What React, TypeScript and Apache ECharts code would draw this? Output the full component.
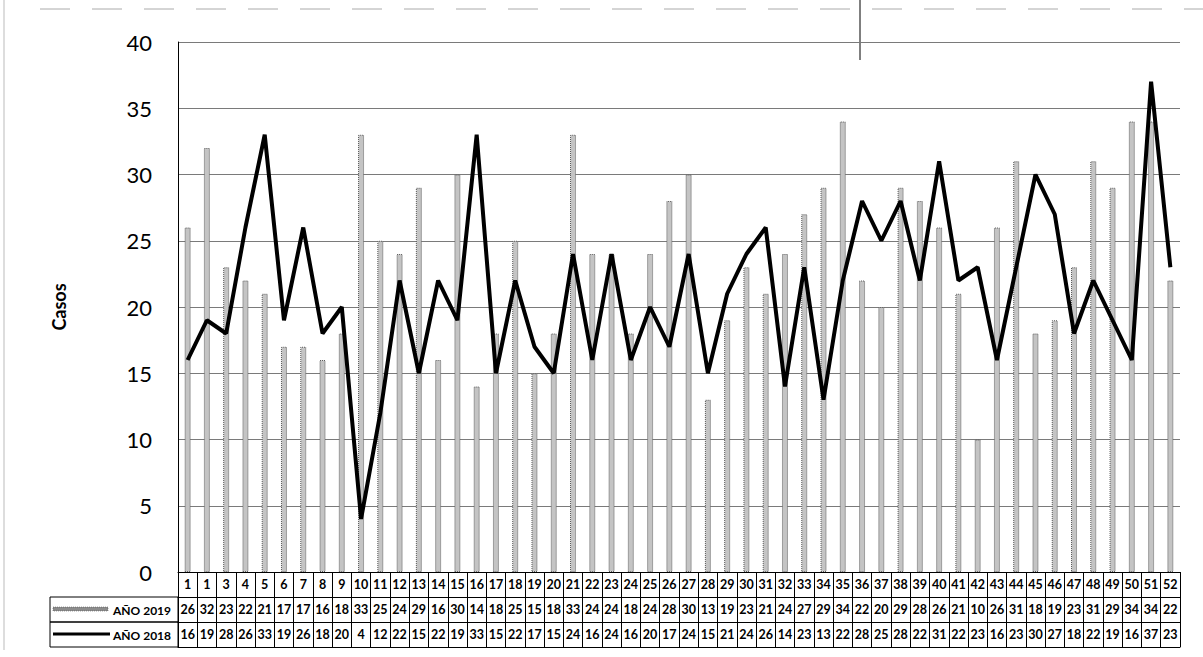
import React, { useEffect, useRef } from "react";
import * as echarts from "echarts";

const weekLabels = ["1","1","3","4","5","6","7","8","9","10","11","12","13","14","15","16","17","18","19","20","21","22","23","24","25","26","27","28","29","30","31","32","33","34","35","36","37","38","39","40","41","42","43","44","45","46","47","48","49","50","51","52"];
const values2019 = [26,32,23,22,21,17,17,16,18,33,25,24,29,16,30,14,18,25,15,18,33,24,24,18,24,28,30,13,19,23,21,24,27,29,34,22,20,29,28,26,21,10,26,31,18,19,23,31,29,34,34,22];
const values2018 = [16,19,18,26,33,19,26,18,20,4,12,22,15,22,19,33,15,22,17,15,24,16,24,16,20,17,24,15,21,24,26,14,23,13,22,28,25,28,22,31,22,23,16,23,30,27,18,22,19,16,37,23];
const table2018 = [16,19,28,26,33,19,26,18,20,4,12,22,15,22,19,33,15,22,17,15,24,16,24,16,20,17,24,15,21,24,26,14,23,13,22,28,25,28,22,31,22,23,16,23,30,27,18,22,19,16,37,23];
const yTicks = { min: 0, max: 40, interval: 5 };
const series2019Name = "AÑO 2019";
const series2018Name = "AÑO 2018";
const yAxisTitle = "Casos";

const FONT = "Lato, 'Open Sans', sans-serif";

export default function App() {
  const ref = useRef<HTMLDivElement>(null);
  useEffect(() => {
    document.body.style.margin = "0";
    const chart = echarts.init(ref.current!, null, { renderer: "svg" });
    const ROW = 25;
    const tableAxis = (data: (string | number)[], offset: number, showLabel: boolean, showTick: boolean) => ({
      type: "category",
      data: data.map(String),
      position: "bottom",
      offset,
      boundaryGap: true,
      axisLine: { show: true, lineStyle: { color: "#000", width: 1 } },
      axisTick: { show: showTick, interval: 0, length: ROW, inside: false, alignWithLabel: false, lineStyle: { color: "#000", width: 1 } },
      axisLabel: { show: showLabel, interval: 0, fontFamily: FONT, fontWeight: "bold", fontSize: 12.5, color: "#000", margin: 6 },
      splitLine: { show: false },
    });
    chart.setOption({
      animation: false,
      backgroundColor: "#fff",
      grid: { left: 178, right: 23, top: 42, bottom: 85, containLabel: false },
      xAxis: [
        tableAxis(weekLabels, 0, true, true),
        tableAxis(values2019, ROW, true, true),
        tableAxis(table2018, ROW * 2, true, true),
        tableAxis(weekLabels, ROW * 3, false, false),
      ],
      yAxis: {
        type: "value",
        min: yTicks.min,
        max: yTicks.max,
        interval: yTicks.interval,
        name: yAxisTitle,
        nameLocation: "middle",
        nameGap: 110,
        nameTextStyle: { fontFamily: FONT, fontWeight: "bold", fontSize: 18, color: "#000" },
        axisLine: { show: true, lineStyle: { color: "#000", width: 1 } },
        axisTick: { show: false },
        axisLabel: { fontFamily: FONT, fontSize: 22, color: "#000", margin: 26 },
        splitLine: { show: true, lineStyle: { color: "#7a7a7a", width: 1 } },
      },
      series: [
        {
          name: series2019Name,
          type: "bar",
          xAxisIndex: 0,
          data: values2019,
          barWidth: 6,
          itemStyle: { color: "#c4c4c4", borderColor: "#5a5a5a", borderWidth: 1, borderType: "dotted" },
          z: 2,
        },
        {
          name: series2018Name,
          type: "line",
          xAxisIndex: 0,
          data: values2018,
          showSymbol: false,
          symbol: "none",
          lineStyle: { color: "#000", width: 4 },
          itemStyle: { color: "#000" },
          z: 3,
        },
      ],
      graphic: [
        { type: "rect", shape: { x: 50, y: 597, width: 128, height: ROW }, style: { fill: "none", stroke: "#000", lineWidth: 1 } },
        { type: "rect", shape: { x: 50, y: 622, width: 128, height: ROW }, style: { fill: "none", stroke: "#000", lineWidth: 1 } },
        { type: "rect", shape: { x: 53, y: 607, width: 55, height: 4 }, style: { fill: "#8c8c8c", stroke: "#444", lineWidth: 0.5, lineDash: [1, 1] } },
        { type: "text", x: 113, y: 610, style: { text: series2019Name, font: `bold 12px ${FONT}`, fill: "#000", textVerticalAlign: "middle" } },
        { type: "line", shape: { x1: 53, y1: 634, x2: 110, y2: 634 }, style: { stroke: "#000", lineWidth: 3 } },
        { type: "text", x: 113, y: 635, style: { text: series2018Name, font: `bold 12px ${FONT}`, fill: "#000", textVerticalAlign: "middle" } },
        { type: "line", shape: { x1: 860, y1: 0, x2: 860, y2: 60 }, style: { stroke: "#000", lineWidth: 1 } },
        { type: "line", shape: { x1: 4, y1: 0, x2: 4, y2: 650 }, style: { stroke: "#bbb", lineWidth: 1 } },
        { type: "line", shape: { x1: 40, y1: 9, x2: 1203, y2: 9 }, style: { stroke: "#aaa", lineWidth: 1, lineDash: [30, 22] } },
      ],
    });
    return () => chart.dispose();
  }, []);
  return <div ref={ref} style={{ width: 1203, height: 657 }} />;
}
